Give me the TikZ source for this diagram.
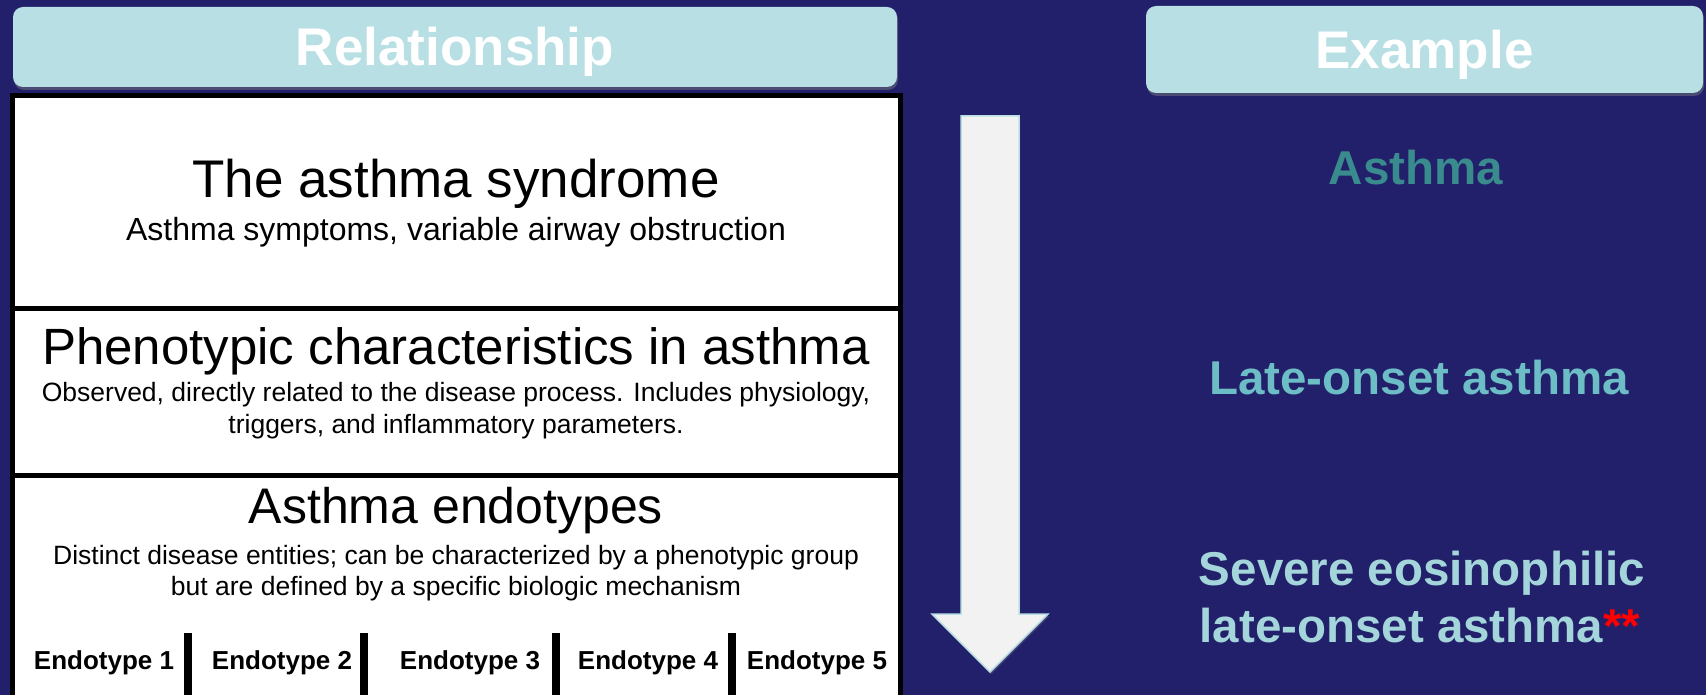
\documentclass[tikz,border=0pt]{standalone}
\usepackage{fontspec}
\setmainfont{Liberation Sans}
\usepackage{tikz}
\usetikzlibrary{calc, positioning, shadows}

\definecolor{navy}{HTML}{22206A}
\definecolor{headfill}{HTML}{B8DFE3}
\definecolor{tealdark}{HTML}{3A8B8D}
\definecolor{tealmid}{HTML}{6CBDC5}
\definecolor{teallight}{HTML}{A3D5DB}
\definecolor{arrowfill}{HTML}{F2F2F2}

\begin{document}
\begin{tikzpicture}[x=1pt, y=-1pt, thick,
  head node/.style={rounded corners=10pt, fill=headfill, text=white, inner sep=0pt,
    font=\fontsize{53}{60}\selectfont\bfseries, text height=38pt, text depth=0pt,
    drop shadow={shadow xshift=1pt, shadow yshift=-3pt, opacity=0.45}},
  box node/.style={draw, line width=5pt, fill=white, inner sep=0pt},
  title node/.style={anchor=base, inner sep=0pt, font=\fontsize{#1}{60}\selectfont},
  sub node/.style={anchor=base, inner sep=0pt, font=\fontsize{#1}{37}\selectfont},
  endo node/.style={anchor=base, inner sep=0pt, font=\fontsize{26}{30}\selectfont\bfseries},
  ex node/.style={anchor=base, inner sep=0pt, text=#1, font=\fontsize{47.5}{56}\selectfont\bfseries}]
   \useasboundingbox (0,0) rectangle (1706,695);
   \fill[navy] (0,0) rectangle (1706,695);

   % headers
   \node[head node, minimum width=884pt, minimum height=80pt] (rel) at (455,47) {Relationship};
   \node[head node, minimum width=557pt, minimum height=87pt] (ex) at (1424.5,49.5) {Example};

   % stacked boxes
   \begin{scope}
   \clip (0,0) rectangle (1706,695);
   \node[box node, minimum width=888pt, minimum height=213pt] (1) at (456,202.5) {};
   \node[box node, minimum width=888pt, minimum height=167pt] (2) at (456,391.5) {};
   \node[box node, minimum width=888pt, minimum height=240pt] (3) at (456,595) {};
   \foreach \x in {188, 364, 556, 732}
      \draw[line width=8pt] (\x,633) -- (\x,700);
   \end{scope}

   \node[title node=53] (1t) at (456,198) {The asthma syndrome};
   \node[sub node=32]   (1s) at (456,241) {Asthma symptoms, variable airway obstruction};

   \node[title node=51] (2t) at (456,364) {Phenotypic characteristics in asthma};
   \node[sub node=26.5] (2s) at (456,401) {Observed, directly related to the disease process. Includes physiology,};
   \node[sub node=26.5] (2u) at (456,433) {triggers, and inflammatory parameters.};

   \node[title node=50] (3t) at (456,523) {Asthma endotypes};
   \node[sub node=26.5] (3s) at (456,564) {Distinct disease entities; can be characterized by a phenotypic group};
   \node[sub node=26.5] (3u) at (456,595) {but are defined by a specific biologic mechanism};

   \node[endo node] (e1) at (104,669) {Endotype 1};
   \node[endo node] (e2) at (282,669) {Endotype 2};
   \node[endo node] (e3) at (470,669) {Endotype 3};
   \node[endo node] (e4) at (648,669) {Endotype 4};
   \node[endo node] (e5) at (817,669) {Endotype 5};

   % down arrow
   \draw[headfill, line width=1.5pt, fill=arrowfill,
     drop shadow={shadow xshift=1pt, shadow yshift=-2pt, opacity=0.4}]
     (961,116) -- (1019,116) -- (1019,614) -- (1048,614) -- (990,672)
     -- (932,614) -- (961,614) -- cycle;

   % examples
   \node[ex node=tealdark]  (a1) at (1416,185) {Asthma};
   \node[ex node=tealmid]   (a2) at (1419,394) {Late-onset asthma};
   \node[ex node=teallight] (a3) at (1422,585) {Severe eosinophilic};
   \node[ex node=teallight] (a4) at (1420,642) {late-onset asthma\textcolor{red}{**}};
\end{tikzpicture}
\end{document}
